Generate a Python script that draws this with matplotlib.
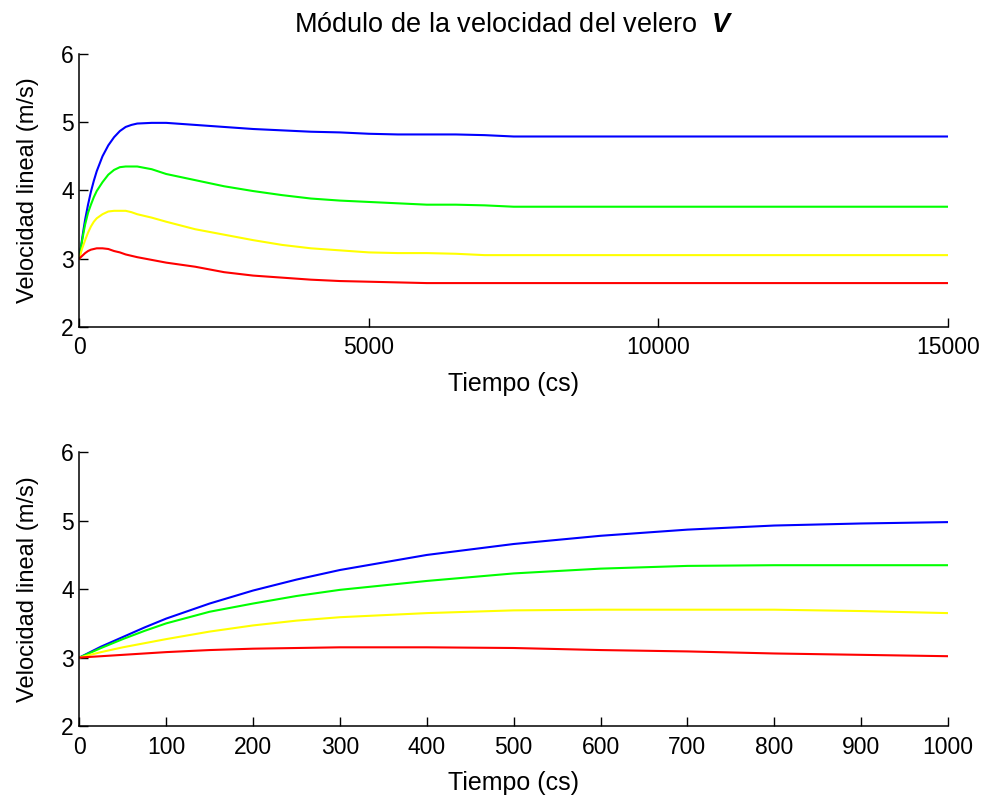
import numpy as np
import matplotlib.pyplot as plt

plt.rcParams['font.family'] = ['Liberation Sans', 'DejaVu Sans']
plt.rcParams['mathtext.fontset'] = 'custom'
plt.rcParams['mathtext.rm'] = 'Liberation Sans'
plt.rcParams['mathtext.bfit'] = 'Liberation Sans:italic:bold'

# tiempo en centisegundos
t = [0, 25, 50, 75, 100, 150, 200, 250, 300, 400, 500, 600, 700, 800, 900, 1000,
     1250, 1500, 2000, 2500, 3000, 3500, 4000, 4500, 5000, 5500, 6000, 6500,
     7000, 7500, 10000, 15000]

# modulo de la velocidad (m/s) para cada caso
v_azul = [3.00, 3.16, 3.30, 3.44, 3.57, 3.79, 3.98, 4.14, 4.28, 4.50, 4.66, 4.78, 4.87, 4.93, 4.96, 4.98,
          4.99, 4.99, 4.96, 4.93, 4.90, 4.88, 4.86, 4.85, 4.83, 4.82, 4.82, 4.82,
          4.81, 4.79, 4.79, 4.79]
v_verde = [3.00, 3.14, 3.27, 3.39, 3.50, 3.67, 3.79, 3.90, 3.99, 4.12, 4.23, 4.30, 4.34, 4.35, 4.35, 4.35,
           4.31, 4.24, 4.15, 4.06, 3.99, 3.93, 3.88, 3.85, 3.83, 3.81, 3.79, 3.79,
           3.78, 3.76, 3.76, 3.76]
v_amarillo = [3.00, 3.08, 3.15, 3.21, 3.27, 3.38, 3.47, 3.54, 3.59, 3.65, 3.69, 3.70, 3.70, 3.70, 3.68, 3.65,
              3.60, 3.54, 3.43, 3.35, 3.27, 3.20, 3.15, 3.12, 3.09, 3.08, 3.08, 3.07,
              3.05, 3.05, 3.05, 3.05]
v_rojo = [3.00, 3.02, 3.04, 3.06, 3.08, 3.11, 3.13, 3.14, 3.15, 3.15, 3.14, 3.11, 3.09, 3.06, 3.04, 3.02,
          2.98, 2.94, 2.88, 2.80, 2.75, 2.72, 2.69, 2.67, 2.66, 2.65, 2.64, 2.64,
          2.64, 2.64, 2.64, 2.64]

series = [(v_azul, 'b'), (v_verde, '#00ff00'), (v_amarillo, '#ffff00'), (v_rojo, 'r')]

fig = plt.figure(figsize=(9.88, 8), dpi=100)
ax1 = fig.add_axes([0.0803, 0.5916, 0.8792, 0.3409])
ax2 = fig.add_axes([0.0803, 0.0925, 0.8792, 0.3421])

def estilo(ax, xmax, xticks):
    ax.set_xlim(0, xmax)
    ax.set_ylim(2, 6)
    ax.set_xticks(xticks)
    ax.set_yticks([2, 3, 4, 5, 6])
    ax.spines['top'].set_visible(False)
    ax.spines['right'].set_visible(False)
    for s in ('left', 'bottom'):
        ax.spines[s].set_linewidth(1.1)
    ax.tick_params(direction='in', length=6.5, width=1.0, labelsize=16.5)
    ax.tick_params(axis='x', pad=7)
    ax.tick_params(axis='y', pad=4)
    ax.set_xlabel('Tiempo (cs)', fontsize=18, labelpad=9)
    ax.set_ylabel('Velocidad lineal (m/s)', fontsize=17, labelpad=16)

for v, c in series:
    ax1.plot(t, v, color=c, lw=1.5)
    ax2.plot(t, v, color=c, lw=1.5)

estilo(ax1, 15000, [0, 5000, 10000, 15000])
estilo(ax2, 1000, np.arange(0, 1001, 100))

ax1.set_title('Módulo de la velocidad del velero  $\\boldsymbol{V}$', fontsize=19.5, pad=16)

fig.savefig('out.png', dpi=100)
